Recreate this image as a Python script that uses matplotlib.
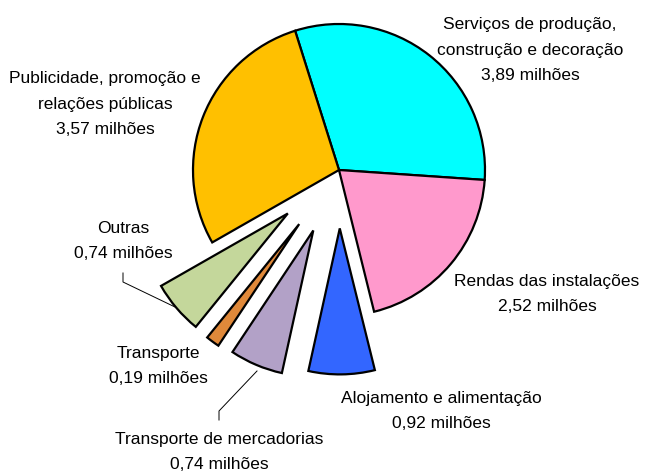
import matplotlib.pyplot as plt
import numpy as np

plt.rcParams['font.family'] = ['Liberation Sans', 'DejaVu Sans']

# data (milhões), clockwise from the top
labels = ['Serviços de produção,\nconstrução e decoração', 'Rendas das instalações',
          'Alojamento e alimentação', 'Transporte de mercadorias', 'Transporte',
          'Outras', 'Publicidade, promoção e\nrelações públicas']
values = [3.89, 2.52, 0.92, 0.74, 0.19, 0.74, 3.57]
colors = ['#00FFFF', '#FF99CC', '#3366FF', '#B2A1C7', '#E0893A', '#C4D79B', '#FFC000']
explode = [0, 0, 0.40, 0.45, 0.46, 0.46, 0]

# label centres in pixels (x, y from top)
label_px = [(530, 50), (547, 294), (441, 411), (219, 452), (158, 366), (123, 241), (105, 104)]

W, H = 646, 477
cx, cy, R = 339, 171, 146

fig = plt.figure(figsize=(W / 100, H / 100), dpi=100)
ax = fig.add_axes([0, 0, 1, 1])

ax.pie(values, colors=colors, explode=explode, startangle=107.5, counterclock=False,
       radius=1, wedgeprops=dict(edgecolor='black', linewidth=1.6))

ax.set_xlim(-cx / R, (W - cx) / R)
ax.set_ylim(-(H - cy) / R, cy / R)
ax.set_aspect('equal')
ax.axis('off')


def px(x, y):
    return (x - cx) / R, (cy - y) / R


for lab, v, (x, y) in zip(labels, values, label_px):
    tx, ty = px(x, y)
    txt = f"{lab}\n{v:.2f}".replace('.', ',') + " milhões"
    ax.text(tx, ty, txt, ha='center', va='center', fontsize=12.5, linespacing=1.9)

# leader lines
for pts in [[(123, 274), (123, 283), (175, 308)], [(219, 421), (219, 412), (257, 372)]]:
    xs, ys = zip(*[px(*p) for p in pts])
    ax.plot(xs, ys, color='black', linewidth=0.7)

fig.savefig('out.png', dpi=100)
